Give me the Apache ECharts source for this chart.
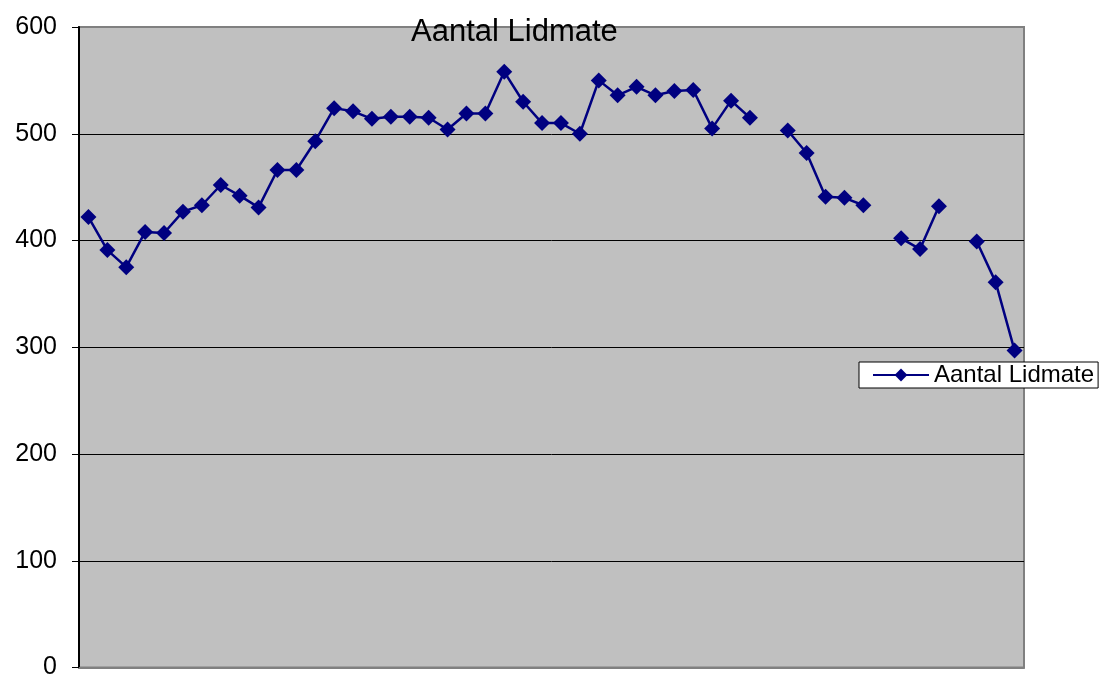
<!DOCTYPE html>
<html>
<head>
<meta charset="utf-8">
<script src="https://cdn.jsdelivr.net/npm/echarts@6/dist/echarts.min.js"></script>
<style>
  html, body { margin: 0; padding: 0; background: #fff; }
  #chart { width: 1101px; height: 680px; }
</style>
</head>
<body>
<div id="chart"></div>
<script>
var titleText = 'Aantal Lidmate';
var seriesName = 'Aantal Lidmate';
var categories = ['1','2','3','4','5','6','7','8','9','10',
                  '11','12','13','14','15','16','17','18','19','20',
                  '21','22','23','24','25','26','27','28','29','30',
                  '31','32','33','34','35','36','37','38','39','40',
                  '41','42','43','44','45','46','47','48','49','50'];
var lidmate = [422, 391, 375, 408, 407, 427, 433, 452, 442, 431,
               466, 466, 493, 524, 521, 514, 516, 516, 515, 504,
               519, 519, 558, 530, 510, 510, 500, 550, 536, 544,
               536, 540, 541, 505, 531, 515, null, 503, 482, 441,
               440, 433, null, 402, 392, 432, null, 399, 361, 297];
var yTicks = [0, 100, 200, 300, 400, 500, 600];

var chart = echarts.init(document.getElementById('chart'));
var font = 'Liberation Sans, Arial, sans-serif';
var option = {
    animation: false,
    title: {
        text: titleText,
        left: 406,
        top: 12,
        textStyle: { fontSize: 31, fontWeight: 'normal', color: '#000', fontFamily: font }
    },
    legend: {
        data: [seriesName],
        left: 859,
        top: 362,
        orient: 'vertical',
        backgroundColor: '#fff',
        borderColor: '#000',
        borderWidth: 1,
        borderRadius: 0,
        padding: [1, 4, 1, 13],
        itemWidth: 56,
        itemHeight: 16,
        textStyle: { fontSize: 24, color: '#000', fontFamily: font }
    },
    grid: {
        left: 79,
        right: 77,
        top: 27,
        bottom: 3,
        show: true,
        backgroundColor: '#C0C0C0',
        borderColor: '#808080',
        borderWidth: 2
    },
    xAxis: {
        type: 'category',
        data: categories,
        boundaryGap: true,
        axisLine: { show: true, lineStyle: { color: '#808080', width: 2 } },
        axisTick: { show: false },
        axisLabel: { show: false },
        splitLine: { show: false }
    },
    yAxis: {
        type: 'value',
        min: yTicks[0],
        max: yTicks[yTicks.length - 1],
        interval: 100,
        axisLine: { show: true, lineStyle: { color: '#000', width: 2 } },
        axisTick: { show: true, length: 7, lineStyle: { color: '#000', width: 1 } },
        axisLabel: { margin: 22, fontSize: 25, color: '#000', fontFamily: font },
        splitLine: {
            show: true,
            lineStyle: { color: ['#808080', '#000', '#000', '#000', '#000', '#000', '#808080'], width: 1 }
        }
    },
    series: [{
        name: seriesName,
        type: 'line',
        data: lidmate,
        connectNulls: false,
        symbol: 'diamond',
        symbolSize: 16,
        showAllSymbol: true,
        itemStyle: { color: '#000080' },
        lineStyle: { color: '#000080', width: 2.5 }
    }]
};
chart.setOption(option);
</script>
</body>
</html>
